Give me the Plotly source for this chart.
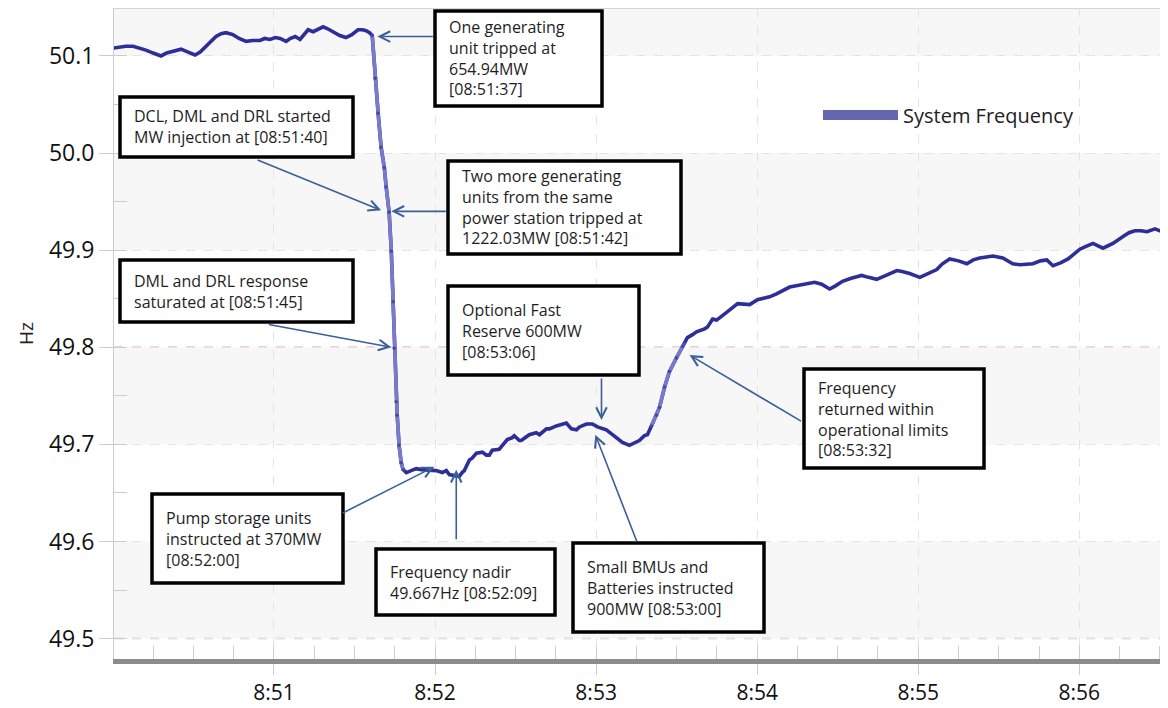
import pandas as pd
import plotly.graph_objects as go

# ---------------- data ----------------
BASE = pd.Timestamp("2024-01-01 08:50:00")

# seconds after 08:50:00
seconds = [
    0, 2.5, 4.8, 7.5, 10, 12.3, 15, 17.9, 20, 22.4, 25.4, 28, 30.6, 32.5, 34.3, 36.5,
    38.4, 40.3, 42.1, 44.7, 47, 49.6, 52, 54.8, 56.5, 58.5, 60.5, 62.3, 64.5, 66, 67.9,
    69.7, 71.2, 72.7, 74.6, 76.5, 78.3, 80, 82.0, 84.5, 86.8, 89, 91.3, 93, 94.3, 95.6,
    96.6, 97.7, 98.8, 99.9, 101.1, 101.8, 102.9, 103.7, 104.4, 104.8, 105.5, 105.9,
    106.6, 107.4, 108.1, 109.3, 111.1, 113.0, 114.9, 117.8, 120.4, 122.7, 124.2, 125.3,
    127.0, 129.0, 130.1, 130.9, 132.8, 133.9, 135.4, 137.6, 139.1, 140.2, 141.3, 143.9,
    145.1, 146.9, 148.8, 149.5, 151.4, 152.1, 155.1, 157.7, 158.9, 161.5, 162.6, 165.2,
    168.9, 170.8, 172.7, 173.8, 176.4, 178.6, 180.5, 182.3, 183.8, 186.1, 187.6, 189.8,
    192.4, 195.0, 196.1, 198.0, 199.1, 200.6, 202.5, 203.6, 205.5, 207.3, 209.9, 212.2,
    212.9, 214.0, 215.9, 217.4, 220.4, 221.5, 223.4, 224.9, 228.6, 232.7, 237.2, 240.1,
    244.6, 247.2, 252.1, 256.9, 261.4, 264, 267.0, 269, 271.8, 275, 278.9, 281.5, 284.5,
    288, 292.0, 294, 296.8, 300.6, 303.5, 306.9, 309, 311.7, 315, 318.1, 320.5, 322.9,
    327.8, 331.5, 335.2, 337.9, 342.7, 345.5, 347.9, 350.2, 353, 355.8, 358, 360.2,
    362.5, 365.1, 368.8, 372.5, 376.3, 378.5, 380.7, 383, 385.2, 386.8, 388.2, 390.8,
]
freq = [
    50.108, 50.109, 50.110, 50.110, 50.108, 50.106, 50.103, 50.100, 50.103, 50.105, 50.107,
    50.104, 50.101, 50.104, 50.109, 50.115, 50.120, 50.123, 50.124, 50.122, 50.118, 50.115,
    50.116, 50.116, 50.118, 50.117, 50.119, 50.118, 50.115, 50.118, 50.120, 50.117, 50.122,
    50.127, 50.125, 50.128, 50.130, 50.128, 50.125, 50.121, 50.119, 50.122, 50.127, 50.127,
    50.126, 50.124, 50.121, 50.077, 50.041, 50.006, 49.985, 49.965, 49.939, 49.899, 49.847,
    49.799, 49.744, 49.730, 49.699, 49.681, 49.674, 49.671, 49.673, 49.675, 49.674, 49.673,
    49.673, 49.671, 49.673, 49.669, 49.668, 49.667, 49.671, 49.673, 49.684, 49.686, 49.691,
    49.692, 49.689, 49.689, 49.694, 49.695, 49.699, 49.705, 49.707, 49.709, 49.704, 49.704,
    49.710, 49.712, 49.710, 49.716, 49.716, 49.719, 49.722, 49.716, 49.715, 49.718, 49.721,
    49.721, 49.718, 49.716, 49.715, 49.710, 49.707, 49.702, 49.699, 49.702, 49.704, 49.709,
    49.710, 49.719, 49.730, 49.738, 49.759, 49.775, 49.789, 49.801, 49.804, 49.810, 49.813,
    49.816, 49.819, 49.821, 49.829, 49.828, 49.836, 49.845, 49.844, 49.849, 49.852, 49.855,
    49.862, 49.865, 49.867, 49.865, 49.860, 49.863, 49.868, 49.871, 49.874, 49.872, 49.870,
    49.874, 49.879, 49.878, 49.876, 49.872, 49.876, 49.880, 49.886, 49.891, 49.889, 49.886,
    49.890, 49.892, 49.894, 49.892, 49.886, 49.885, 49.886, 49.889, 49.890, 49.884, 49.887,
    49.891, 49.896, 49.901, 49.904, 49.907, 49.902, 49.907, 49.914, 49.918, 49.920, 49.920,
    49.919, 49.921, 49.922, 49.919,
]

# sparse (fast-moving) stretches drawn lighter, as in the original rendering
sparse_spans = [(96.6, 108.1), (200.6, 212.9)]

x_range_s = (0.4, 390.8)
y_range = (49.479, 50.1494)
upper_limit = 49.8   # operational limit (red dashed)
lower_limit = 49.5   # statutory limit (green dashed)

# event call-outs: text, box (page pixels: x0, y0, x1, y1), arrow head (sec, Hz), tail offset (px)
events = [
    ("One generating<br>unit tripped at<br>654.94MW<br>[08:51:37]",
     (435, 11, 602, 106), (98.5, 50.120), (57, 0)),
    ("DCL, DML and DRL started<br>MW injection at [08:51:40]",
     (120, 97, 353, 157), (99.9, 49.941), (-125, -51)),
    ("Two more generating<br>units from the same<br>power station tripped at<br>1222.03MW [08:51:42]",
     (448, 161, 681, 254), (103.7, 49.940), (56, 0)),
    ("DML and DRL response<br>saturated at [08:51:45]",
     (120, 260, 353, 322), (103.7, 49.800), (-124, -23)),
    ("Optional Fast<br>Reserve 600MW<br>[08:53:06]",
     (448, 286, 639, 375), (182.0, 49.725), (0, -43)),
    ("Frequency<br>returned within<br>operational limits<br>[08:53:32]",
     (804, 369, 984, 468), (214.8, 49.792), (113, 67)),
    ("Pump storage units<br>instructed at 370MW<br>[08:52:00]",
     (152, 494, 343, 583), (119.7, 49.677), (-93, 47)),
    ("Frequency nadir<br>49.667Hz [08:52:09]",
     (376, 549, 555, 615), (127.9, 49.674), (0, 71)),
    ("Small BMUs and<br>Batteries instructed<br>900MW [08:53:00]",
     (573, 543, 764, 632), (179.7, 49.710), (42, 108)),
]

# ---------------- layout geometry ----------------
PAGE_OFF = 8                      # the page body margin that offsets the figure
W, H = 1168 - PAGE_OFF, 708 - PAGE_OFF
PLOT_L, PLOT_R, PLOT_T, PLOT_B = 114, 1162, 8, 659   # plot area in page pixels
M_L = PLOT_L - PAGE_OFF
M_T = PLOT_T - PAGE_OFF
M_R = 1168 - PLOT_R
M_B = 708 - PLOT_B
PW, PH = PLOT_R - PLOT_L, PLOT_B - PLOT_T


def px2x(px):
    return (px - PLOT_L) / PW


def py2y(py):
    return (PLOT_B - py) / PH


def ts(s):
    return (BASE + pd.Timedelta(seconds=s)).strftime("%Y-%m-%d %H:%M:%S.%f")


times = [ts(s) for s in seconds]

LINE = "#2e2e98"
LIGHT = "#7a7acb"
FONT = "Open Sans"

fig = go.Figure()

fig.add_trace(go.Scatter(
    x=times, y=freq, mode="lines", name="System Frequency",
    line=dict(color=LINE, width=3.6), showlegend=False,
))
for a, b in sparse_spans:
    idx = [i for i, s in enumerate(seconds) if a <= s <= b]
    fig.add_trace(go.Scatter(
        x=[times[i] for i in idx], y=[freq[i] for i in idx], mode="lines+markers",
        line=dict(color=LIGHT, width=3.6), marker=dict(color="#4747a8", size=3.5),
        showlegend=False, hoverinfo="skip",
    ))
# legend entry
fig.add_trace(go.Scatter(
    x=[None], y=[None], mode="lines", name="System Frequency",
    line=dict(color="#6666b0", width=10),
))

shapes = []
# alternating bands
bands = [(50.1, y_range[1]), (49.9, 50.0), (49.7, 49.8), (49.5, 49.6)]
for y0, y1 in bands:
    shapes.append(dict(type="rect", xref="paper", yref="y", x0=0, x1=1, y0=y0, y1=y1,
                       fillcolor="#f7f7f7", line_width=0, layer="below"))
shapes.append(dict(type="line", xref="paper", yref="y", x0=0, x1=1,
                   y0=upper_limit, y1=upper_limit, layer="below",
                   line=dict(color="#f2a2a2", width=1.5, dash="dash")))
shapes.append(dict(type="line", xref="paper", yref="y", x0=0, x1=1,
                   y0=lower_limit, y1=lower_limit, layer="below",
                   line=dict(color="#a6d8a6", width=1.5, dash="dash")))
# thin top frame line
shapes.append(dict(type="line", xref="paper", yref="paper", x0=0, x1=1, y0=1, y1=1,
                   line=dict(color="#c8c8c8", width=1.5), layer="below"))

annotations = []
for text, (bx0, by0, bx1, by1), (hs, hv), (ax, ay) in events:
    shapes.append(dict(type="rect", xref="paper", yref="paper",
                       x0=px2x(bx0), x1=px2x(bx1), y0=py2y(by1), y1=py2y(by0),
                       fillcolor="white", line=dict(color="black", width=3.5),
                       layer="above"))
    annotations.append(dict(xref="paper", yref="paper", x=px2x(bx0 + 12),
                            y=py2y((by0 + by1) / 2), xanchor="left", yanchor="middle",
                            text=text, showarrow=False, align="left",
                            font=dict(family=FONT, size=16, color="#1e1e1e")))
    annotations.append(dict(xref="x", yref="y", x=ts(hs), y=hv, ax=ax, ay=ay,
                            text="", showarrow=True, arrowhead=5, arrowsize=1.3,
                            arrowwidth=1.6, arrowcolor="#3a5f99", standoff=0))

fig.update_layout(
    width=W, height=H, autosize=False,
    margin=dict(l=M_L, r=M_R, t=M_T, b=M_B, pad=0),
    paper_bgcolor="white", plot_bgcolor="white",
    shapes=shapes, annotations=annotations,
    showlegend=True,
    legend=dict(x=px2x(818), y=py2y(115), xanchor="left", yanchor="middle",
                bgcolor="rgba(0,0,0,0)", itemwidth=75,
                font=dict(family=FONT, size=20, color="#222222")),
    xaxis=dict(
        type="date", range=[ts(x_range_s[0]), ts(x_range_s[1])],
        tick0=ts(0), dtick=60000, tickformat="%-H:%M",
        showgrid=True, gridcolor="#e4e4e4", griddash="dash", gridwidth=1,
        ticks="outside", ticklen=11, tickcolor="#cccccc",
        showline=True, linecolor="#8c8c8c", linewidth=5, zeroline=False,
        minor=dict(dtick=15000, tick0=ts(0), ticks="inside", ticklen=13,
                   tickcolor="#cccccc", showgrid=False),
        tickfont=dict(family=FONT, size=21, color="#111111"),
        automargin=False,
    ),
    yaxis=dict(
        range=list(y_range), tick0=49.5, dtick=0.1, tickformat=".1f",
        showgrid=True, gridcolor="#e4e4e4", griddash="dash", gridwidth=1,
        ticks="outside", ticklen=14, tickcolor="#cccccc",
        showline=True, linecolor="#cccccc", linewidth=1, zeroline=False,
        minor=dict(dtick=0.05, tick0=49.5, ticks="inside", ticklen=13,
                   tickcolor="#cccccc", showgrid=False),
        tickfont=dict(family=FONT, size=23, color="#111111"),
        title=dict(text="Hz", font=dict(family=FONT, size=19, color="#222222"), standoff=10),
        automargin=False,
    ),
)

fig.write_html("out.html")
